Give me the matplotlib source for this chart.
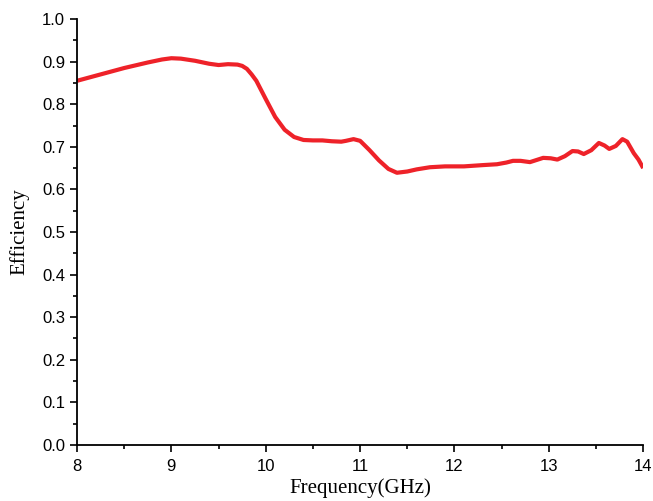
import matplotlib
matplotlib.use('Agg')
import matplotlib.pyplot as plt
from matplotlib.ticker import MultipleLocator

# values
freq = [8.0, 8.25, 8.5, 8.75, 8.9, 9.0, 9.1, 9.25, 9.4, 9.5, 9.6, 9.7, 9.75,
        9.8, 9.85, 9.9, 10.0, 10.1, 10.2, 10.3, 10.4, 10.5, 10.6, 10.7, 10.8,
        10.85, 10.93, 11.0, 11.1, 11.2, 11.3, 11.39, 11.5, 11.6, 11.74, 11.9,
        12.1, 12.3, 12.45, 12.55, 12.62, 12.7, 12.8, 12.94, 13.02, 13.09,
        13.17, 13.25, 13.31, 13.37, 13.45, 13.53, 13.59, 13.64, 13.71, 13.78,
        13.83, 13.9, 13.95, 14.0]
eff = [0.855, 0.870, 0.885, 0.898, 0.905, 0.908, 0.907, 0.902, 0.895, 0.892,
       0.894, 0.893, 0.890, 0.883, 0.870, 0.855, 0.812, 0.770, 0.740, 0.723,
       0.716, 0.715, 0.715, 0.713, 0.712, 0.714, 0.718, 0.714, 0.692, 0.668,
       0.648, 0.639, 0.642, 0.647, 0.652, 0.654, 0.654, 0.657, 0.659, 0.663,
       0.667, 0.667, 0.664, 0.674, 0.673, 0.670, 0.678, 0.690, 0.689, 0.683,
       0.692, 0.709, 0.703, 0.695, 0.702, 0.718, 0.712, 0.685, 0.670, 0.650]

fig = plt.figure(figsize=(6.53, 5.01), dpi=100)
ax = fig.add_axes([0.118, 0.112, 0.867, 0.850])

ax.plot(freq, eff, color='#ee2229', linewidth=3.0, solid_joinstyle='round',
        solid_capstyle='butt')

ax.set_xlim(8, 14)
ax.set_ylim(0.0, 1.0)
ax.xaxis.set_major_locator(MultipleLocator(1))
ax.xaxis.set_minor_locator(MultipleLocator(0.5))
ax.yaxis.set_major_locator(MultipleLocator(0.1))
ax.yaxis.set_minor_locator(MultipleLocator(0.05))
ax.yaxis.set_major_formatter(matplotlib.ticker.FormatStrFormatter('%.1f'))

for s in ['top', 'right']:
    ax.spines[s].set_visible(False)
for s in ['left', 'bottom']:
    ax.spines[s].set_linewidth(1.3)

ax.tick_params(which='major', direction='out', length=5, width=1.2,
               labelsize=12)
ax.tick_params(axis='x', which='major', pad=5)
ax.tick_params(which='minor', direction='out', length=3, width=1.2)
for lab in ax.get_xticklabels() + ax.get_yticklabels():
    lab.set_fontfamily('Liberation Sans')

ax.set_xlabel('Frequency(GHz)', family='Liberation Serif', fontsize=15,
              labelpad=3)
ax.set_ylabel('Efficiency', family='Liberation Serif', fontsize=15,
              labelpad=9)

fig.savefig('out.png')
